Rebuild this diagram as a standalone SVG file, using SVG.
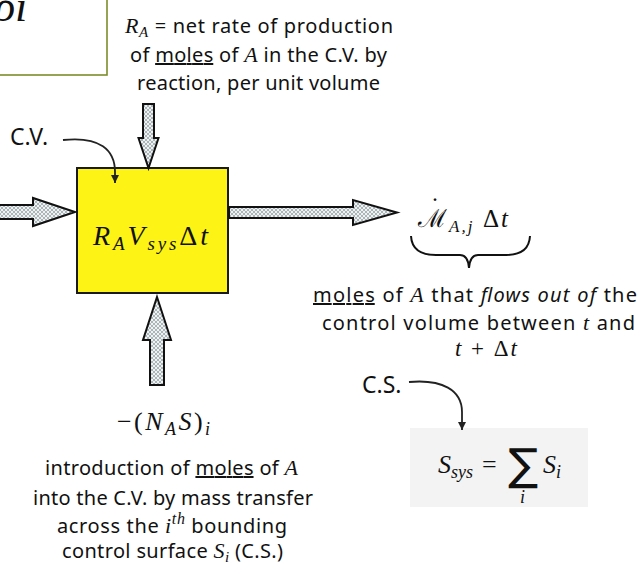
<svg xmlns="http://www.w3.org/2000/svg" width="643" height="564" viewBox="0 0 643 564">
<style>
.t{font-family:"Noto Sans","Open Sans",sans-serif;font-size:20px;fill:#111}
.lbl{font-size:23px}
.m{font-family:"Liberation Serif","DejaVu Serif",serif;font-style:italic;fill:#111}
.i{font-family:"Liberation Serif","DejaVu Serif",serif;font-style:italic}
.u{text-decoration:underline}
.up{font-style:normal}
.blk{fill:url(#dots);stroke:#111;stroke-width:2;stroke-linejoin:miter}
.con{fill:none;stroke:#222;stroke-width:1.8}
</style>
<defs>
<pattern id="dots" width="4" height="4" patternUnits="userSpaceOnUse">
<rect width="4" height="4" fill="#eef2f2"/>
<path d="M0,2 L2,0 L4,2 L2,4 Z" fill="none" stroke="#9aa6a8" stroke-width="0.8"/>
</pattern>
<marker id="arr" markerUnits="userSpaceOnUse" markerWidth="8" markerHeight="8" refX="8" refY="4" orient="auto" viewBox="0 0 8 8">
<path d="M0,0 L8,4 L0,8 Z" fill="#222"/>
</marker>
</defs>
<rect width="643" height="564" fill="#fff"/>

<g id="topleft-box">
<rect x="-2" y="-2" width="109" height="77" fill="#fff" stroke="#7d8c2a" stroke-width="1.6"/>
<text class="m" x="-6" y="21" font-size="44">ρi</text>
</g>

<g id="reaction-label">
<text class="t" x="125" y="33" textLength="268"><tspan class="i" font-size="22">R</tspan><tspan class="i" font-size="15" dy="4">A</tspan><tspan dy="-4"> = net rate of production</tspan></text>
<text class="t" x="130" y="62" textLength="257">of <tspan class="u">moles</tspan> of <tspan class="i" font-size="22">A</tspan> in the C.V. by</text>
<text class="t" x="137" y="90" textLength="243">reaction, per unit volume</text>
</g>

<g id="control-volume">
<rect x="77" y="168" width="151" height="125" fill="#fdf314" stroke="#1a1a1a" stroke-width="2"/>
<text class="m" x="93" y="245" font-size="28" textLength="115">R<tspan font-size="19" dy="5">A</tspan><tspan dy="-5">V</tspan><tspan font-size="19" dy="5">sys</tspan><tspan class="up" dy="-5">Δ</tspan>t</text>
</g>

<g id="cv-label">
<text class="t lbl" x="10" y="145">C.V.</text>
</g>

<g id="outflow-label">
<text class="m" x="418" y="227" font-size="25" textLength="90"><tspan font-family="DejaVu Serif,serif" font-style="normal">ℳ</tspan><tspan font-size="17" dy="5">A,j</tspan><tspan dy="-5"> </tspan><tspan class="up">Δ</tspan>t</text>
<text x="429" y="217" font-family="DejaVu Serif,serif" font-size="24" fill="#111">˙</text>
<path d="M411,236 Q412,255 436,255 L460,255 Q468,255 469,268 Q470,255 478,255 L506,255 Q529,255 530,236" fill="none" stroke="#111" stroke-width="2"/>
<text class="t" x="313" y="302" textLength="324"><tspan class="u">moles</tspan> of <tspan class="i" font-size="22">A</tspan> that <tspan font-style="italic">flows out of</tspan> the</text>
<text class="t" x="322" y="330" textLength="313">control volume between <tspan class="i" font-size="22">t</tspan> and</text>
<text class="m" x="455" y="356" font-size="23" textLength="62">t <tspan class="up">+ Δ</tspan>t</text>
</g>

<g id="cs-label">
<text class="t lbl" x="362" y="393">C.S.</text>
</g>

<g id="surface-sum">
<rect x="410" y="428" width="178" height="79" fill="#f3f3f3"/>
<text class="m" x="438" y="473" font-size="26">S<tspan font-size="18" dy="5">sys</tspan></text>
<text x="482" y="473" font-family="Liberation Serif,serif" font-size="26" fill="#111">=</text>
<text x="508" y="480" font-family="DejaVu Sans,sans-serif" font-size="44" fill="#111" textLength="30" lengthAdjust="spacingAndGlyphs">∑</text>
<text class="m" x="520" y="503" font-size="18">i</text>
<text class="m" x="543" y="473" font-size="26">S<tspan font-size="18" dy="5">i</tspan></text>
</g>

<g id="transfer-label">
<text class="m" x="117" y="430" font-size="26" textLength="93"><tspan class="up">−(</tspan>N<tspan font-size="18" dy="5">A</tspan><tspan dy="-5">S</tspan><tspan class="up">)</tspan><tspan font-size="18" dy="5">i</tspan></text>
<text class="t" x="45" y="475" textLength="253">introduction of <tspan class="u">moles</tspan> of <tspan class="i" font-size="22">A</tspan></text>
<text class="t" x="33" y="505" textLength="280">into the C.V. by mass transfer</text>
<text class="t" x="57" y="533" textLength="230">across the <tspan class="i" font-size="22">i</tspan><tspan class="i" font-size="16" dy="-9">th</tspan><tspan dy="9"> bounding</tspan></text>
<text class="t" x="62" y="558" textLength="221">control surface <tspan class="i" font-size="22">S</tspan><tspan class="i" font-size="15" dy="4">i</tspan><tspan dy="-4"> (C.S.)</tspan></text>
</g>

<g id="connectors">
<polygon class="blk" points="143,104 154,104 154,138 158.5,138 148.5,168 138.5,138 143,138"/>
<polygon class="blk" points="-5,205 33,205 33,198 75,212 33,226 33,219 -5,219"/>
<polygon class="blk" points="229,207 353,207 353,200 397,212.5 353,225 353,218 229,218"/>
<polygon class="blk" points="157,297 171,340 164,340 164,385 150,385 150,340 143,340"/>
<path class="con" d="M63,140 C100,136 115,150 115,172 L115,183" marker-end="url(#arr)"/>
<path class="con" d="M409,382 C442,379 462,390 462,412 L462,430" marker-end="url(#arr)"/>
</g>
</svg>
